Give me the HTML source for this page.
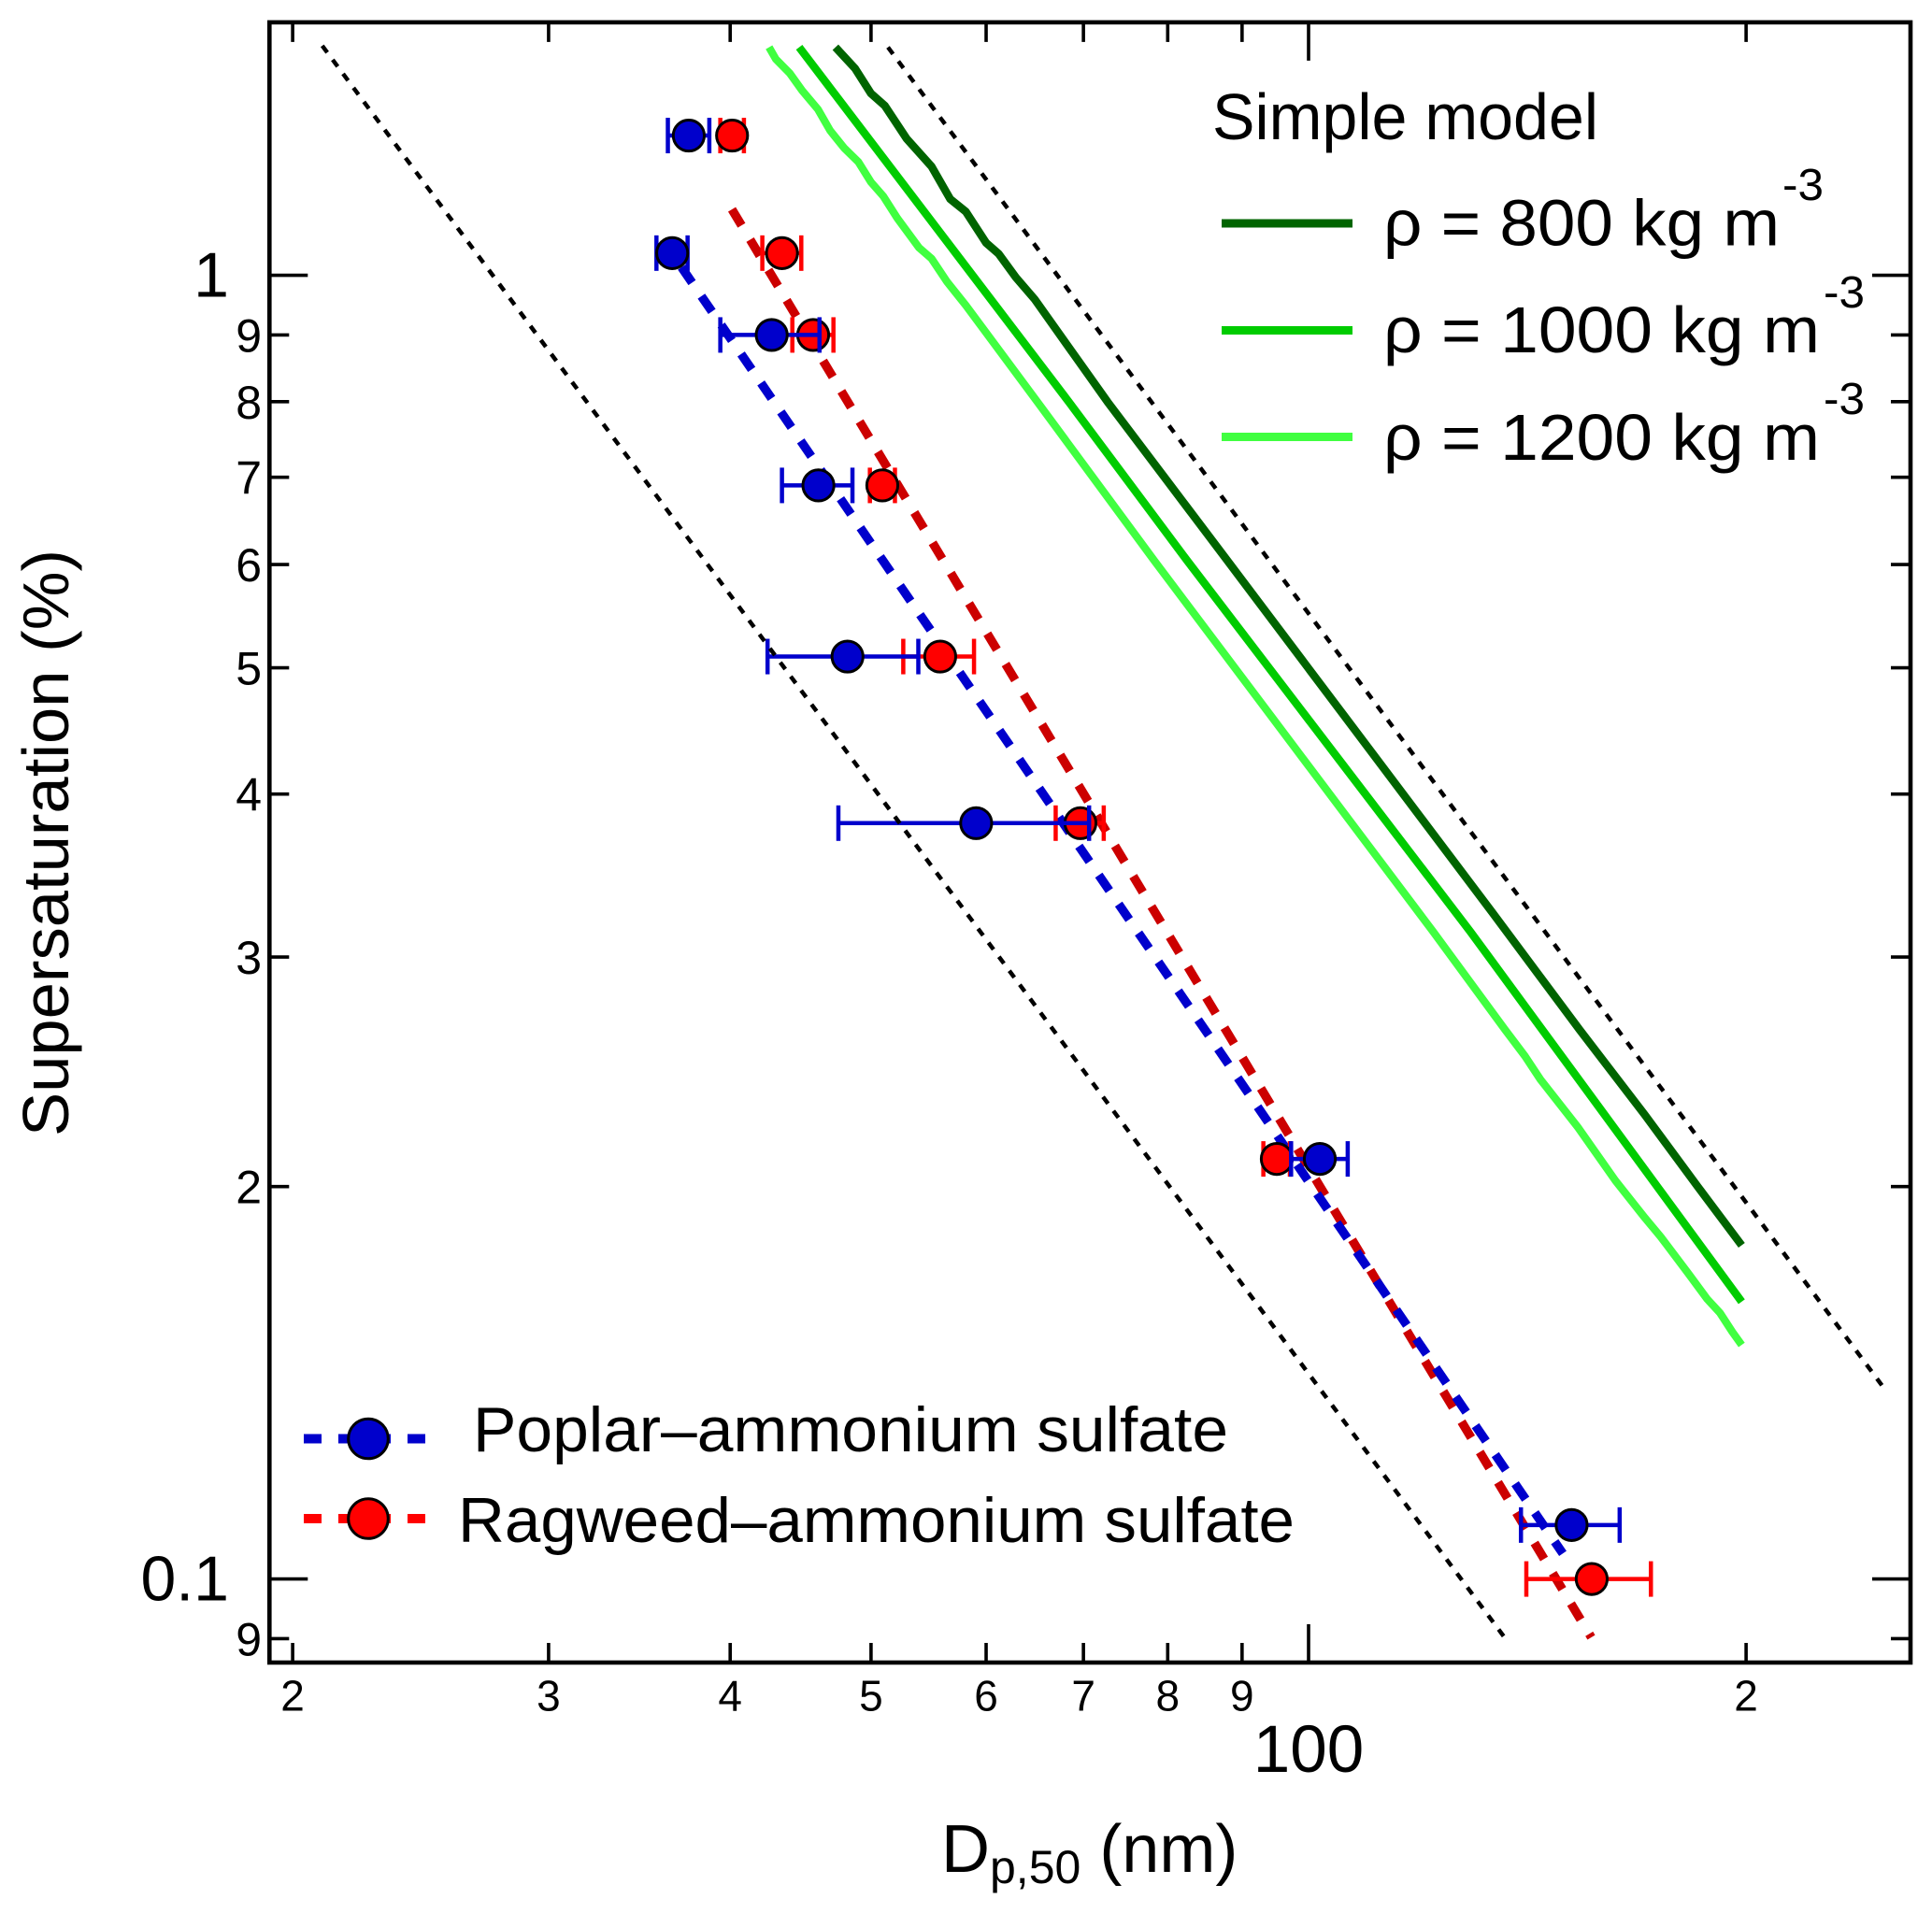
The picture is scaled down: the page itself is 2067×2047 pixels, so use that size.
<!DOCTYPE html>
<html lang="en">
<head>
<meta charset="utf-8">
<title>Supersaturation vs Dp,50</title>
<style>
  html, body { margin: 0; padding: 0; background: #ffffff; }
  svg { display: block; }
  text { font-family: "Liberation Sans", sans-serif; fill: #000000; }
</style>
</head>
<body>
<svg id="chart" xmlns="http://www.w3.org/2000/svg" width="2067" height="2047" viewBox="0 0 2067 2047">
  <rect x="0" y="0" width="2067" height="2047" fill="#ffffff"/>
  <g id="marks"></g>
  <g id="axes"></g>
  <rect x="288.3" y="23.9" width="1755.7" height="1755.1" fill="none" stroke="#000" stroke-width="4.6"/>

  <text transform="translate(73 1216) rotate(-90)" font-size="70" textLength="628" lengthAdjust="spacingAndGlyphs">Supersaturation (%)</text>
  <text x="1007" y="2003" font-size="72">D<tspan font-size="50" dy="12">p,50</tspan><tspan dy="-12"> (nm)</tspan></text>

  <g>
    <text x="1297" y="149" font-size="70" textLength="413" lengthAdjust="spacingAndGlyphs">Simple model</text>
    <rect x="1307" y="234.5" width="140" height="9" fill="#006400"/>
    <text x="1480" y="262.5" font-size="70" textLength="424" lengthAdjust="spacingAndGlyphs">ρ = 800 kg m</text>
    <text x="1907" y="214" font-size="48" textLength="44" lengthAdjust="spacingAndGlyphs">-3</text>
    <rect x="1307" y="349" width="140" height="9" fill="#00cc00"/>
    <text x="1480" y="377" font-size="70" textLength="467" lengthAdjust="spacingAndGlyphs">ρ = 1000 kg m</text>
    <text x="1951" y="329" font-size="48" textLength="44" lengthAdjust="spacingAndGlyphs">-3</text>
    <rect x="1307" y="463" width="140" height="9" fill="#40ff40"/>
    <text x="1480" y="492" font-size="70" textLength="467" lengthAdjust="spacingAndGlyphs">ρ = 1200 kg m</text>
    <text x="1951" y="443" font-size="48" textLength="44" lengthAdjust="spacingAndGlyphs">-3</text>
  </g>

  <g>
    <line x1="325" y1="1539.5" x2="455" y2="1539.5" stroke="#0000cc" stroke-width="10" stroke-dasharray="19 18"/>
    <circle cx="394" cy="1539.5" r="21.3" fill="#0000cc" stroke="#000" stroke-width="3"/>
    <text x="506" y="1553" font-size="68" textLength="808" lengthAdjust="spacingAndGlyphs">Poplar–ammonium sulfate</text>
    <line x1="325" y1="1625" x2="455" y2="1625" stroke="#ff0000" stroke-width="10" stroke-dasharray="19 18"/>
    <circle cx="394" cy="1625" r="21.3" fill="#ff0000" stroke="#000" stroke-width="3"/>
    <text x="490" y="1650" font-size="68" textLength="895" lengthAdjust="spacingAndGlyphs">Ragweed–ammonium sulfate</text>
  </g>
</svg>

<script>
// ---- Data ----
const xMinorTicks = [20, 30, 40, 50, 60, 70, 80, 90, 200];
const xMinorLabels = ['2', '3', '4', '5', '6', '7', '8', '9', '2'];
const xMajorTicks = [100];
const xMajorLabels = ['100'];
const yMinorTicks = [0.09, 0.2, 0.3, 0.4, 0.5, 0.6, 0.7, 0.8, 0.9];
const yMinorLabels = ['9', '2', '3', '4', '5', '6', '7', '8', '9'];
const yMajorTicks = [0.1, 1];
const yMajorLabels = ['0.1', '1'];

const poplarS = [1.28, 1.04, 0.90, 0.69, 0.51, 0.38, 0.21, 0.11];
const poplarDp = [37.46, 36.49, 42.72, 46.0, 48.17, 59.06, 101.8, 151.7];
const poplarLow = [36.24, 35.59, 39.38, 43.42, 42.44, 47.48, 97.27, 140.0];
const poplarHigh = [38.70, 37.39, 46.08, 48.55, 53.89, 70.63, 106.4, 163.7];

const ragweedS = [1.28, 1.04, 0.90, 0.69, 0.51, 0.38, 0.21, 0.10];
const ragweedDp = [40.12, 43.42, 45.62, 50.90, 55.79, 69.67, 95.09, 156.6];
const ragweedLow = [39.38, 42.09, 44.14, 49.91, 52.62, 66.99, 93.09, 141.2];
const ragweedHigh = [40.88, 44.77, 47.11, 51.93, 58.86, 72.29, 97.08, 172.0];

const poplarFitDp = [36.49, 85.32, 149.6];
const poplarFitS = [1.039, 0.2615, 0.1046];
const ragweedFitDp = [40.11, 156.5];
const ragweedFitS = [1.1235, 0.09021];

const lowerBoundDp = [20.96, 136.2];
const lowerBoundS = [1.5, 0.0904];
const upperBoundDp = [51.36, 248.0];
const upperBoundS = [1.496, 0.1408];

const model800Dp = [47.26, 48.75, 49.99, 51.11, 52.90, 55.03, 56.69, 58.10, 60.00, 61.19, 62.89, 64.78, 72.73, 87.94, 133.8, 153.6, 170.4, 185.3, 198.6];
const model800S = [1.496, 1.441, 1.379, 1.349, 1.273, 1.212, 1.144, 1.119, 1.059, 1.039, 0.9965, 0.959, 0.7997, 0.6041, 0.3245, 0.2639, 0.2269, 0.1999, 0.1803];

const model1000Dp = [44.62, 68.40, 82.51, 129.2, 198.6];
const model1000S = [1.496, 0.7997, 0.6041, 0.3138, 0.1632];

const model1200Dp = [42.54, 43.00, 43.96, 44.83, 45.96, 46.87, 47.92, 49.00, 49.99, 50.98, 52.13, 53.95, 55.03, 56.41, 58.10, 65.08, 78.32, 121.8, 136.5, 140.9, 144.4, 153.3, 162.6, 170.4, 174.7, 182.6, 188.1, 191.9, 195.7, 198.6];
const model1200S = [1.496, 1.465, 1.429, 1.386, 1.341, 1.291, 1.252, 1.222, 1.179, 1.150, 1.106, 1.050, 1.030, 0.9883, 0.9484, 0.7997, 0.6041, 0.3138, 0.2639, 0.2518, 0.2416, 0.2219, 0.2021, 0.1892, 0.1830, 0.1714, 0.1639, 0.1600, 0.1547, 0.1512];

// ---- Axis functions ----
const SVG_NS = 'http://www.w3.org/2000/svg';
const FRAME = { left: 288.3, right: 2044, top: 23.9, bottom: 1779 };
function xScale(dp) { return 1400 + 1555 * Math.log10(dp / 100); }
function yScale(s) { return 294.6 - 1395 * Math.log10(s); }

const marks = document.getElementById('marks');
const axes = document.getElementById('axes');

function make(tag, attrs, parent) {
  const el = document.createElementNS(SVG_NS, tag);
  Object.keys(attrs).forEach(function (k) { el.setAttribute(k, attrs[k]); });
  parent.appendChild(el);
  return el;
}

function pathPoints(dps, ss) {
  return dps.map(function (d, i) { return xScale(d).toFixed(2) + ',' + yScale(ss[i]).toFixed(2); }).join(' ');
}

// ---- Ticks ----
function drawXTicks(values, labels, len, size, baseline) {
  values.forEach(function (v, i) {
    const x = xScale(v);
    const bottomTick = make('line', { x1: x, x2: x, y1: FRAME.bottom, y2: FRAME.bottom - len, stroke: '#000', 'stroke-width': 3.6 }, axes);
    
    
    const topTick = make('line', { x1: x, x2: x, y1: FRAME.top, y2: FRAME.top + len, stroke: '#000', 'stroke-width': 3.6 }, axes);
    
    
    const label = make('text', { x: x, y: baseline, 'font-size': size, 'text-anchor': 'middle' }, axes);
    label.textContent = labels[i];
    
    
  });
}

function drawYTicks(values, labels, len, size, rightEdge, offset) {
  values.forEach(function (v, i) {
    const y = yScale(v);
    const leftTick = make('line', { x1: FRAME.left, x2: FRAME.left + len, y1: y, y2: y, stroke: '#000', 'stroke-width': 3.6 }, axes);
    
    
    const rightTick = make('line', { x1: FRAME.right, x2: FRAME.right - len, y1: y, y2: y, stroke: '#000', 'stroke-width': 3.6 }, axes);
    
    
    const label = make('text', { x: rightEdge, y: y + offset, 'font-size': size, 'text-anchor': 'end' }, axes);
    label.textContent = labels[i];
    
    
  });
}

drawXTicks(xMinorTicks, xMinorLabels, 21, 46, 1830.5);
drawXTicks(xMajorTicks, xMajorLabels, 41, 71, 1896);
drawYTicks(yMinorTicks, yMinorLabels, 21, 50, 280, 18);
drawYTicks(yMajorTicks, yMajorLabels, 41, 68, 245, 23);

// ---- Fit lines ----
const ragweedFit = make('polyline', { points: pathPoints(ragweedFitDp, ragweedFitS), fill: 'none', stroke: '#cc0000', 'stroke-width': 9.5, 'stroke-dasharray': '20 17.85' }, marks);



const poplarFit = make('polyline', { points: pathPoints(poplarFitDp, poplarFitS), fill: 'none', stroke: '#0000cc', 'stroke-width': 9.5, 'stroke-dasharray': '20 17.57', 'stroke-dashoffset': 20 }, marks);



// ---- Points with error bars ----
function drawSeries(dps, lows, highs, ss, barColor, fillColor, seriesName) {
  dps.forEach(function (d, i) {
    const y = yScale(ss[i]);
    const xl = xScale(lows[i]);
    const xh = xScale(highs[i]);
    const bar = make('line', { x1: xl, x2: xh, y1: y, y2: y, stroke: barColor, 'stroke-width': 4.5 }, marks);
    
    
    const capLow = make('line', { x1: xl, x2: xl, y1: y - 19, y2: y + 19, stroke: barColor, 'stroke-width': 4.5 }, marks);
    
    
    const capHigh = make('line', { x1: xh, x2: xh, y1: y - 19, y2: y + 19, stroke: barColor, 'stroke-width': 4.5 }, marks);
    
    
    const dot = make('circle', { cx: xScale(d), cy: y, r: 16.6, fill: fillColor, stroke: '#000', 'stroke-width': 3 }, marks);
    
    
  });
}
drawSeries(ragweedDp, ragweedLow, ragweedHigh, ragweedS, '#ff0000', '#ff0000', 'ragweed');
drawSeries(poplarDp, poplarLow, poplarHigh, poplarS, '#0000cc', '#0000cc', 'poplar');

// ---- Dotted bounds ----
const lowerBound = make('polyline', { points: pathPoints(lowerBoundDp, lowerBoundS), fill: 'none', stroke: '#000', 'stroke-width': 4.5, 'stroke-dasharray': '9 9.68' }, marks);



const upperBound = make('polyline', { points: pathPoints(upperBoundDp, upperBoundS), fill: 'none', stroke: '#000', 'stroke-width': 4.5, 'stroke-dasharray': '9 9.68' }, marks);



// ---- Model curves ----
const curve800 = make('polyline', { points: pathPoints(model800Dp, model800S), fill: 'none', stroke: '#006400', 'stroke-width': 8.5, 'stroke-linejoin': 'round' }, marks);



const curve1000 = make('polyline', { points: pathPoints(model1000Dp, model1000S), fill: 'none', stroke: '#00cc00', 'stroke-width': 8.5, 'stroke-linejoin': 'round' }, marks);



const curve1200 = make('polyline', { points: pathPoints(model1200Dp, model1200S), fill: 'none', stroke: '#40ff40', 'stroke-width': 8.2, 'stroke-linejoin': 'round' }, marks);


</script>
</body>
</html>
